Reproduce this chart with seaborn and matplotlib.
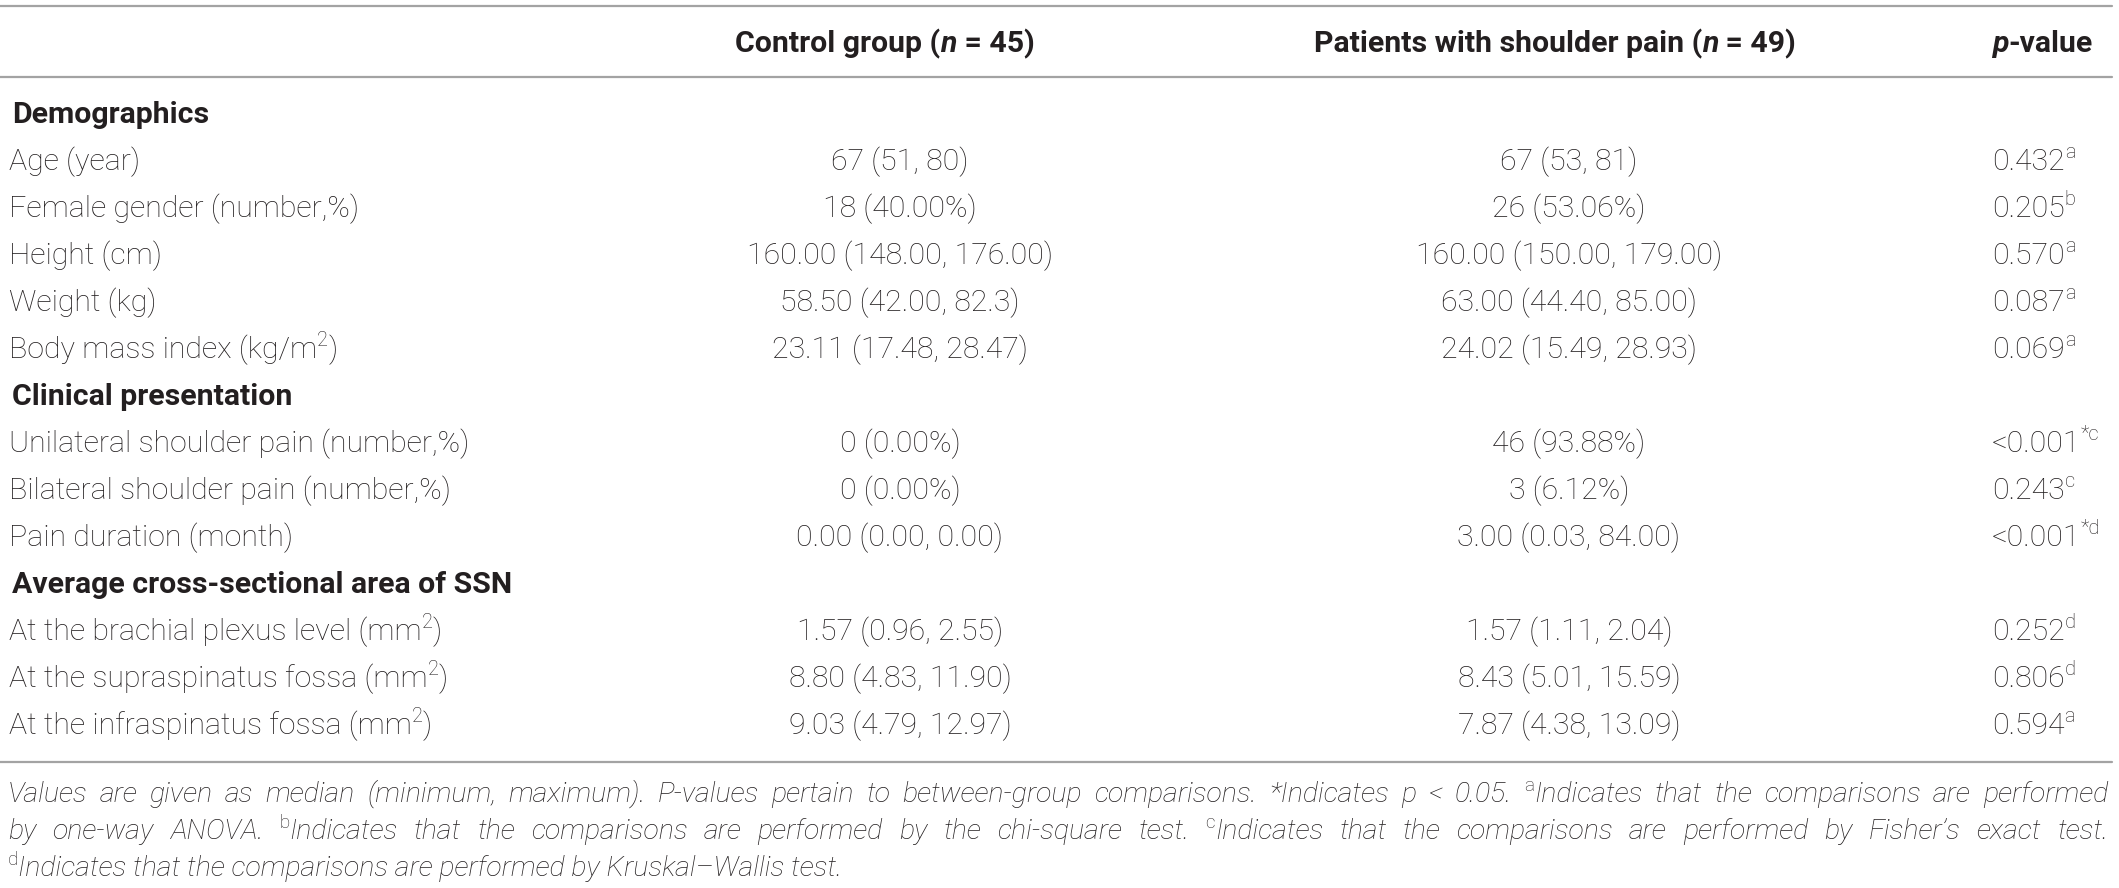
import re
import matplotlib
matplotlib.use("Agg")
import matplotlib.pyplot as plt
import seaborn as sns

# table content
sections = ["Demographics", "Clinical presentation", "Average cross-sectional area of SSN"]
row_section = [0, 0, 0, 0, 0, 1, 1, 1, 2, 2, 2]
row_labels = ["Age (year)", "Female gender (number,%)", "Height (cm)", "Weight (kg)",
              "Body mass index (kg/m^2^)", "Unilateral shoulder pain (number,%)",
              "Bilateral shoulder pain (number,%)", "Pain duration (month)",
              "At the brachial plexus level (mm^2^)", "At the supraspinatus fossa (mm^2^)",
              "At the infraspinatus fossa (mm^2^)"]
control = ["67 (51, 80)", "18 (40.00%)", "160.00 (148.00, 176.00)", "58.50 (42.00, 82.3)",
           "23.11 (17.48, 28.47)", "0 (0.00%)", "0 (0.00%)", "0.00 (0.00, 0.00)",
           "1.57 (0.96, 2.55)", "8.80 (4.83, 11.90)", "9.03 (4.79, 12.97)"]
patients = ["67 (53, 81)", "26 (53.06%)", "160.00 (150.00, 179.00)", "63.00 (44.40, 85.00)",
            "24.02 (15.49, 28.93)", "46 (93.88%)", "3 (6.12%)", "3.00 (0.03, 84.00)",
            "1.57 (1.11, 2.04)", "8.43 (5.01, 15.59)", "7.87 (4.38, 13.09)"]
p_values = ["0.432", "0.205", "0.570", "0.087", "0.069", "<0.001", "0.243", "<0.001",
            "0.252", "0.806", "0.594"]
p_marks = ["a", "b", "a", "a", "a", "*c", "c", "*d", "d", "d", "a"]

footnote = [
    "Values are given as median (minimum, maximum). P-values pertain to between-group comparisons. "
    "*Indicates p < 0.05. ^a^Indicates that the comparisons are performed",
    "by one-way ANOVA. ^b^Indicates that the comparisons are performed by the chi-square test. "
    "^c^Indicates that the comparisons are performed by Fisher\u2019s exact test.",
    "^d^Indicates that the comparisons are performed by Kruskal\u2013Wallis test.",
]

sns.set_theme(style="white")
plt.rcParams['font.family'] = ['Roboto', 'DejaVu Sans']

TXT = '#231f20'
LINE = '#a3a3a3'
FS = 21.8
FN = 20.5

fig = plt.figure(figsize=(21.19, 8.88), dpi=100)
ax = fig.add_axes([0, 0, 1, 1])
ax.set_xlim(0, 2119)
ax.set_ylim(888, 0)
ax.axis('off')
renderer = fig.canvas.get_renderer()


def parse(s, style='normal', weight='light'):
    segs = []
    parts = re.split(r'\^', s)
    for i, p in enumerate(parts):
        if p:
            segs.append((p, i % 2 == 1, style, weight))
    return segs


def make(segs, size):
    objs = []
    for text, sup, style, weight in segs:
        fs = size * 0.66 if sup else size
        w = 'light' if sup else weight
        t = ax.text(0, 0, text, fontsize=fs, fontstyle='normal' if sup else style,
                    fontweight=w, color=TXT, va='baseline', ha='left')
        objs.append((t, sup, t.get_window_extent(renderer).width))
    return objs


def place(objs, x, y, size):
    for t, sup, w in objs:
        t.set_position((x, y - size * 0.55 if sup else y))
        x += w
    return x


def run(segs, x, y, size=FS, ha='left'):
    objs = make(segs, size)
    total = sum(o[2] for o in objs)
    if ha == 'center':
        x = x - total / 2
    place(objs, x, y, size)


X_LAB, X_PV = 9, 1992
X_C, X_CH = 900, 885
X_P, X_PH = 1569, 1555
y_head = 42
y0, dy = 113, 47
base = 10  # center -> baseline

ax.plot([0, 2112], [6, 6], color=LINE, lw=1.6)
ax.plot([0, 2112], [77, 77], color=LINE, lw=1.6)

run([("Control group (", False, 'normal', 'bold'), ("n", False, 'italic', 'bold'),
     (" = 45)", False, 'normal', 'bold')], X_CH, y_head + base, ha='center')
run([("Patients with shoulder pain (", False, 'normal', 'bold'), ("n", False, 'italic', 'bold'),
     (" = 49)", False, 'normal', 'bold')], X_PH, y_head + base, ha='center')
run([("p", False, 'italic', 'bold'), ("-value", False, 'normal', 'bold')], X_PV, y_head + base)

row = 0
prev = -1
for i, lab in enumerate(row_labels):
    if row_section[i] != prev:
        prev = row_section[i]
        run([(sections[prev], False, 'normal', 'bold')], X_LAB + 3, y0 + row * dy + base)
        row += 1
    y = y0 + row * dy + base
    run(parse(lab), X_LAB, y)
    run(parse(control[i]), X_C, y, ha='center')
    run(parse(patients[i]), X_P, y, ha='center')
    run(parse(p_values[i] + "^" + p_marks[i] + "^"), X_PV, y)
    row += 1

y_bot = y0 + (row - 1) * dy + 38
ax.plot([0, 2112], [y_bot, y_bot], color=LINE, lw=1.6)

# footnote, first two lines justified
fy = [793, 830, 867]
left, right = 8, 2108
for k, line in enumerate(footnote):
    y = fy[k] + 9
    words = line.split(' ')
    if k < 2:
        groups = [make(parse(w, style='italic'), FN) for w in words]
        widths = [sum(o[2] for o in g) for g in groups]
        gap = (right - left - sum(widths)) / (len(words) - 1)
        x = left
        for g, w in zip(groups, widths):
            place(g, x, y, FN)
            x += w + gap
    else:
        run(parse(line, style='italic'), left, y, size=FN)

fig.savefig("out.png", dpi=100)
